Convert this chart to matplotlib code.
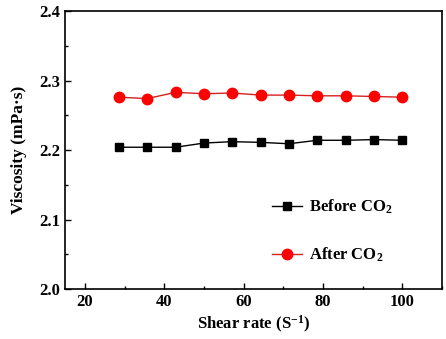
import matplotlib
matplotlib.use("Agg")
import matplotlib.pyplot as plt
from matplotlib.ticker import MultipleLocator

plt.rcParams["font.family"] = ["Liberation Serif", "DejaVu Serif"]
plt.rcParams["font.weight"] = "bold"
plt.rcParams["mathtext.fontset"] = "custom"
plt.rcParams["mathtext.rm"] = "Liberation Serif:bold"
plt.rcParams["mathtext.bf"] = "Liberation Serif:bold"
plt.rcParams["mathtext.default"] = "rm"

shear_rate = [28.6, 35.7, 42.9, 50.0, 57.1, 64.3, 71.4, 78.6, 85.7, 92.9, 100.0]
before_co2 = [2.204, 2.204, 2.204, 2.210, 2.212, 2.211, 2.209, 2.214, 2.214, 2.215, 2.214]
after_co2 = [2.276, 2.274, 2.283, 2.281, 2.282, 2.279, 2.279, 2.278, 2.278, 2.277, 2.276]

fig = plt.figure(figsize=(4.46, 3.39), dpi=100)
ax = fig.add_axes([0.1457, 0.1475, 0.8453, 0.82])

ax.plot(shear_rate, before_co2, color="black", marker="s", markersize=6,
        linewidth=1, label="Before CO$_2$")
ax.plot(shear_rate, after_co2, color="#d62020", marker="o", markersize=7.5,
        markerfacecolor="red", markeredgecolor="red", linewidth=1,
        label="After CO$_2$")

ax.set_xlim(15, 110)
ax.set_ylim(2.0, 2.4)
ax.xaxis.set_major_locator(MultipleLocator(20))
ax.xaxis.set_minor_locator(MultipleLocator(10))
ax.yaxis.set_major_locator(MultipleLocator(0.1))
ax.yaxis.set_minor_locator(MultipleLocator(0.05))
ax.tick_params(which="both", direction="in", top=False, right=False,
               labelsize=12, width=1)
ax.tick_params(which="major", length=4)
ax.tick_params(which="minor", length=2)
for s in ax.spines.values():
    s.set_linewidth(1.2)

ax.set_xlabel("Shear rate (S$^{-1}$)", fontsize=12, fontweight="bold", labelpad=3)
ax.set_ylabel("Viscosity (mPa\u00b7s)", fontsize=12.5, fontweight="bold", labelpad=9)

ax.legend(loc="center left", bbox_to_anchor=(0.527, 0.209), frameon=False,
          borderpad=0, labelspacing=1.75, handlelength=1.8, handletextpad=0.4,
          prop={"size": 12, "weight": "bold"})

fig.savefig("out.png", dpi=100)
